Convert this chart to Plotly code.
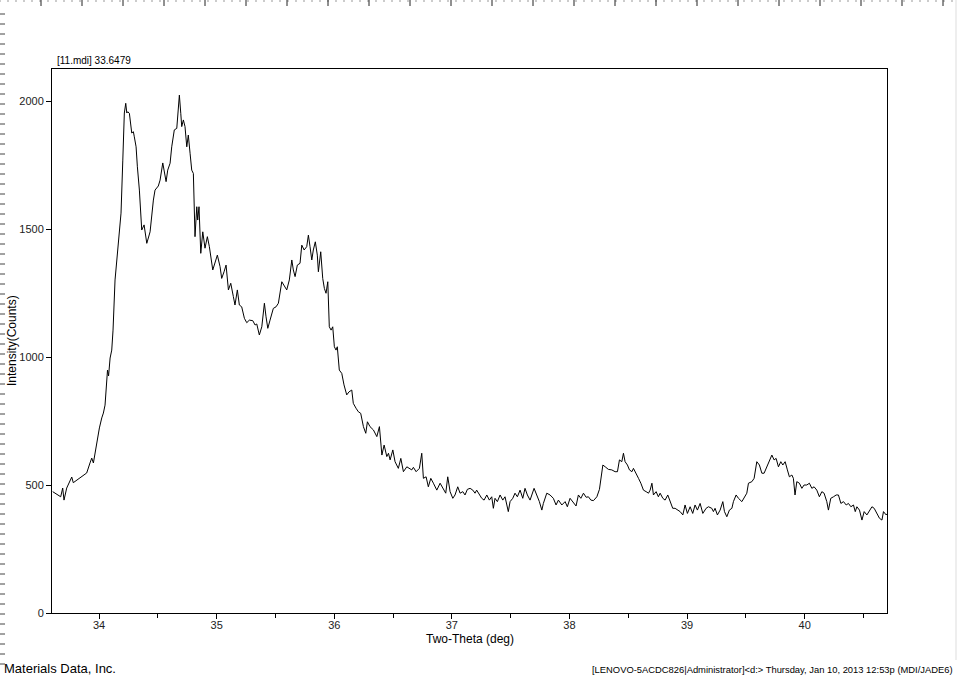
import plotly.graph_objects as go

# scan of [11.mdi], traced point by point
two_theta = [
    33.606, 33.654, 33.674, 33.691, 33.702, 33.725, 33.768, 33.781, 33.838, 33.866,
    33.895, 33.923, 33.938, 33.952, 33.980, 34.003, 34.023, 34.037, 34.051, 34.065,
    34.072, 34.081, 34.094, 34.108, 34.119, 34.136, 34.153, 34.164, 34.187, 34.202,
    34.215, 34.227, 34.236, 34.244, 34.258, 34.278, 34.292, 34.300, 34.315, 34.326,
    34.343, 34.363, 34.383, 34.406, 34.417, 34.434, 34.462, 34.476, 34.504, 34.519,
    34.542, 34.553, 34.570, 34.584, 34.604, 34.618, 34.640, 34.661, 34.683, 34.695,
    34.703, 34.717, 34.731, 34.746, 34.759, 34.774, 34.788, 34.802, 34.816, 34.831,
    34.839, 34.850, 34.865, 34.882, 34.901, 34.921, 34.938, 34.967, 34.986, 35.006,
    35.029, 35.043, 35.063, 35.080, 35.100, 35.120, 35.142, 35.156, 35.176, 35.193,
    35.213, 35.236, 35.256, 35.278, 35.307, 35.327, 35.341, 35.363, 35.384, 35.406,
    35.420, 35.435, 35.454, 35.482, 35.505, 35.525, 35.554, 35.573, 35.596, 35.618,
    35.639, 35.652, 35.667, 35.686, 35.709, 35.724, 35.744, 35.766, 35.780, 35.794,
    35.809, 35.822, 35.839, 35.856, 35.865, 35.885, 35.902, 35.916, 35.930, 35.945,
    35.958, 35.973, 35.987, 36.001, 36.015, 36.026, 36.043, 36.064, 36.083, 36.106,
    36.126, 36.149, 36.162, 36.185, 36.205, 36.225, 36.248, 36.268, 36.282, 36.304,
    36.333, 36.362, 36.384, 36.405, 36.424, 36.447, 36.461, 36.475, 36.498, 36.517,
    36.545, 36.566, 36.588, 36.617, 36.639, 36.659, 36.673, 36.696, 36.724, 36.744,
    36.758, 36.781, 36.800, 36.821, 36.843, 36.872, 36.900, 36.928, 36.948, 36.965,
    36.985, 37.008, 37.027, 37.050, 37.070, 37.093, 37.112, 37.132, 37.155, 37.178,
    37.197, 37.211, 37.234, 37.254, 37.274, 37.297, 37.319, 37.339, 37.353, 37.367,
    37.387, 37.410, 37.433, 37.452, 37.480, 37.495, 37.518, 37.537, 37.557, 37.580,
    37.603, 37.622, 37.642, 37.665, 37.699, 37.722, 37.744, 37.765, 37.778, 37.807,
    37.835, 37.863, 37.886, 37.906, 37.935, 37.963, 37.982, 38.005, 38.028, 38.056,
    38.076, 38.097, 38.119, 38.142, 38.161, 38.182, 38.204, 38.233, 38.255, 38.267,
    38.284, 38.304, 38.331, 38.360, 38.388, 38.408, 38.425, 38.445, 38.459, 38.473,
    38.493, 38.510, 38.531, 38.544, 38.567, 38.587, 38.607, 38.629, 38.652, 38.672,
    38.686, 38.701, 38.714, 38.737, 38.756, 38.771, 38.794, 38.813, 38.836, 38.855,
    38.878, 38.898, 38.918, 38.941, 38.964, 38.983, 39.003, 39.026, 39.048, 39.068,
    39.088, 39.111, 39.134, 39.162, 39.182, 39.210, 39.224, 39.238, 39.258, 39.281,
    39.304, 39.318, 39.338, 39.360, 39.381, 39.394, 39.417, 39.437, 39.466, 39.485,
    39.508, 39.522, 39.551, 39.570, 39.593, 39.615, 39.636, 39.655, 39.678, 39.700,
    39.721, 39.740, 39.757, 39.777, 39.797, 39.814, 39.834, 39.853, 39.870, 39.891,
    39.904, 39.918, 39.933, 39.955, 39.976, 39.995, 40.018, 40.040, 40.061, 40.080,
    40.103, 40.125, 40.146, 40.165, 40.188, 40.202, 40.222, 40.245, 40.268, 40.287,
    40.308, 40.330, 40.353, 40.372, 40.393, 40.415, 40.430, 40.444, 40.466, 40.487,
    40.506, 40.529, 40.551, 40.572, 40.591, 40.614, 40.636, 40.657, 40.670, 40.693,
    40.704,
]
counts = [
    474, 461, 454, 488, 441, 488, 531, 509, 527, 535,
    547, 586, 605, 586, 664, 723, 762, 781, 812, 910,
    949, 926, 996, 1027, 1105, 1301, 1398, 1445, 1562, 1769,
    1953, 1991, 1953, 1958, 1952, 1875, 1880, 1860, 1821, 1743,
    1652, 1496, 1516, 1444, 1465, 1489, 1613, 1652, 1668, 1691,
    1758, 1730, 1685, 1730, 1757, 1821, 1887, 1893, 2023, 1952,
    1900, 1926, 1900, 1821, 1867, 1796, 1730, 1717, 1470, 1587,
    1535, 1587, 1405, 1489, 1425, 1470, 1431, 1340, 1372, 1398,
    1353, 1307, 1333, 1359, 1262, 1288, 1236, 1203, 1262, 1203,
    1196, 1151, 1134, 1144, 1142, 1125, 1129, 1086, 1118, 1210,
    1157, 1112, 1144, 1190, 1196, 1210, 1294, 1281, 1262, 1301,
    1379, 1340, 1314, 1359, 1366, 1437, 1418, 1431, 1476, 1431,
    1379, 1418, 1450, 1398, 1333, 1411, 1307, 1268, 1249, 1294,
    1118, 1105, 1118, 1040, 1027, 1040, 949, 936, 891, 852,
    864, 871, 819, 800, 786, 780, 728, 702, 747, 728,
    715, 689, 728, 617, 656, 611, 624, 598, 637, 591,
    565, 604, 552, 571, 565, 559, 569, 552, 565, 624,
    526, 532, 493, 526, 507, 480, 507, 487, 468, 532,
    474, 448, 461, 493, 468, 474, 461, 483, 487, 480,
    468, 480, 461, 448, 441, 461, 441, 454, 409, 448,
    435, 461, 441, 454, 396, 435, 448, 468, 454, 480,
    448, 487, 461, 441, 487, 461, 435, 402, 428, 468,
    461, 448, 422, 441, 422, 435, 415, 448, 435, 418,
    461, 448, 468, 452, 454, 441, 439, 454, 483, 520,
    578, 571, 561, 559, 552, 552, 598, 591, 624, 591,
    578, 559, 552, 565, 546, 526, 507, 480, 474, 468,
    480, 507, 461, 474, 454, 468, 448, 441, 461, 435,
    409, 409, 402, 396, 383, 422, 389, 415, 389, 422,
    402, 428, 389, 409, 415, 409, 396, 409, 383, 402,
    435, 396, 376, 402, 409, 435, 461, 448, 435, 448,
    468, 507, 513, 526, 591, 578, 546, 546, 571, 598,
    617, 598, 604, 571, 591, 578, 591, 559, 532, 539,
    526, 461, 513, 507, 487, 500, 500, 507, 487, 493,
    480, 454, 474, 468, 435, 402, 448, 454, 461, 461,
    428, 435, 422, 428, 415, 422, 396, 415, 402, 363,
    396, 383, 402, 415, 409, 389, 370, 363, 396, 383,
    389,
]

x_ticks = [34, 35, 36, 37, 38, 39, 40]
x_minor = [34.5, 35.5, 36.5, 37.5, 38.5, 39.5, 40.5]
y_ticks = [0, 500, 1000, 1500, 2000]

W, H = 960, 678
L, R, T, B = 52, 887, 69, 613  # plot box in pixels
FONT = "Liberation Sans, Arial, sans-serif"


def px(x):
    return (x - L) / (R - L)


def py(y):
    return (B - y) / (B - T)


fig = go.Figure()
fig.add_trace(go.Scatter(
    x=two_theta, y=counts, mode="lines",
    line=dict(color="black", width=1), showlegend=False,
))

axis_common = dict(
    showline=True, linecolor="black", linewidth=1, mirror=True,
    ticks="outside", ticklen=5, tickcolor="black", tickwidth=1,
    showgrid=False, zeroline=False,
    tickfont=dict(family=FONT, size=11, color="#222"),
)
fig.update_xaxes(range=[33.6, 40.70], tickmode="array", tickvals=x_ticks,
                 minor=dict(tickmode="array", tickvals=x_minor, ticks="outside",
                            ticklen=4, tickcolor="black"),
                 ticklabelstandoff=-3,
                 **axis_common)
fig.update_yaxes(range=[0, 2125], tickmode="array", tickvals=y_ticks, **axis_common)

# rulers around the window (decoration of the original screenshot)
shapes = []
for i in range(0, W, 8):
    shapes.append(dict(type="line", xref="paper", yref="paper",
                       x0=px(i), x1=px(i), y0=py(0), y1=py(2),
                       line=dict(color="#999", width=1)))
for i in range(41, W, 41):
    shapes.append(dict(type="line", xref="paper", yref="paper",
                       x0=px(i), x1=px(i), y0=py(0), y1=py(6),
                       line=dict(color="#222", width=1)))
for j in range(14, 668, 10):
    shapes.append(dict(type="line", xref="paper", yref="paper",
                       x0=px(0), x1=px(5), y0=py(j), y1=py(j),
                       line=dict(color="#444", width=1)))
shapes.append(dict(type="line", xref="paper", yref="paper",
                   x0=px(956), x1=px(956), y0=py(0), y1=py(660),
                   line=dict(color="#ddd", width=1)))

footer = "[LENOVO-5ACDC826|Administrator]&lt;d:&gt; Thursday, Jan 10, 2013 12:53p (MDI/JADE6)"


def note(text, x, y, xanchor, yanchor, size, angle=0):
    return dict(text=text, x=x, y=y, xref="paper", yref="paper",
                xanchor=xanchor, yanchor=yanchor, textangle=angle,
                showarrow=False, font=dict(family=FONT, size=size, color="black"))


annotations = [
    note("[11.mdi] 33.6479", px(55), py(68), "left", "bottom", 10),
    note("Two-Theta (deg)", 0.5, py(630), "center", "top", 12),
    note("Intensity(Counts)", px(12), 0.5, "center", "middle", 12, -90),
    note("Materials Data, Inc.", px(2), py(678), "left", "bottom", 13),
    note(footer, px(955), py(677), "right", "bottom", 9.4),
]

fig.update_layout(
    width=W, height=H,
    margin=dict(l=L, r=W - R, t=T, b=H - B, pad=0),
    paper_bgcolor="white", plot_bgcolor="white",
    shapes=shapes, annotations=annotations,
    showlegend=False,
)

fig.write_html("out.html", config={"displayModeBar": False},
               post_script="document.body.style.margin='0';")
